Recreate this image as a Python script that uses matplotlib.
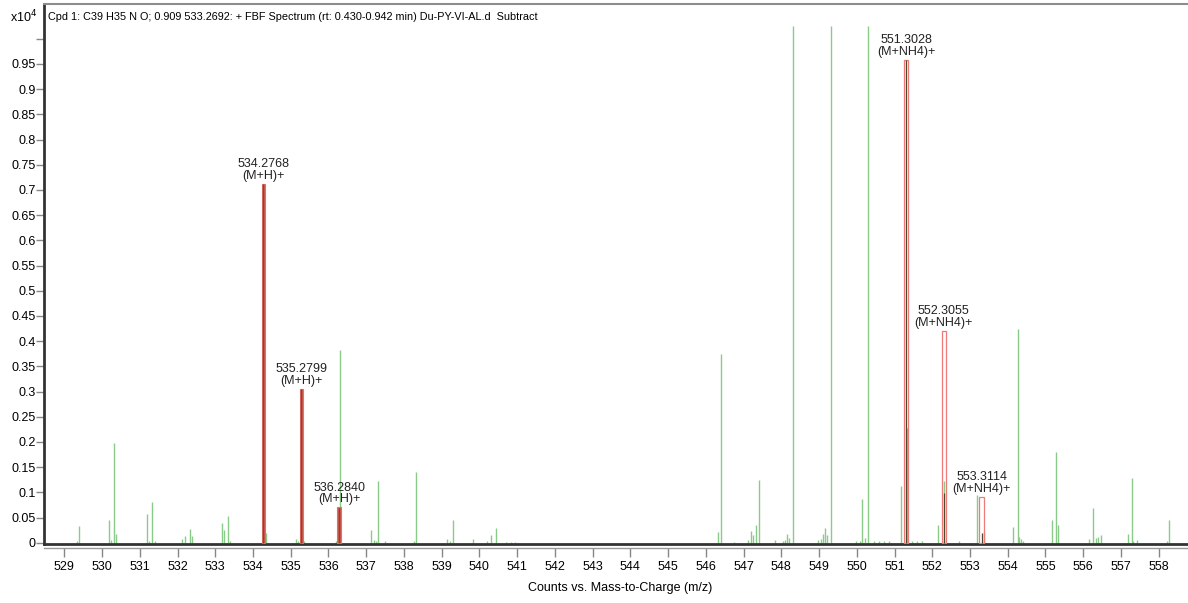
import numpy as np
import matplotlib.pyplot as plt
from matplotlib.patches import Rectangle

# profile peaks of the spectrum (m/z, counts x10^4)
peak_mz = [529.33, 529.39, 530.18, 530.23, 530.31, 530.36, 531.19, 531.25, 531.32, 531.40,
           532.13, 532.19, 532.32, 532.39, 533.19, 533.23, 533.33, 533.40, 534.35, 535.13,
           535.20, 535.34, 536.20, 536.31, 537.13, 537.20, 537.25, 537.31, 537.50, 538.27,
           538.32, 539.13, 539.22, 539.31, 539.84, 540.20, 540.32, 540.45, 540.70, 540.85,
           540.95, 546.33, 546.40, 546.75, 547.12, 547.19, 547.26, 547.33, 547.40, 547.83,
           548.04, 548.10, 548.16, 548.20, 548.30, 548.98, 549.04, 549.10, 549.15, 549.20,
           549.31, 549.99, 550.08, 550.15, 550.21, 550.30, 550.45, 550.60, 550.72, 550.85,
           551.16, 551.32, 551.45, 551.60, 551.72, 552.14, 552.31, 552.70, 553.19, 553.36,
           554.15, 554.26, 554.30, 554.35, 554.40, 555.16, 555.27, 555.32, 556.16, 556.27,
           556.34, 556.40, 556.46, 557.19, 557.28, 557.33, 557.42, 558.22, 558.28]
peak_int = [0.004, 0.034, 0.046, 0.005, 0.198, 0.017, 0.058, 0.003, 0.081, 0.003,
            0.007, 0.014, 0.027, 0.013, 0.040, 0.025, 0.054, 0.003, 0.020, 0.007,
            0.003, 0.004, 0.003, 0.382, 0.025, 0.006, 0.004, 0.122, 0.003, 0.003,
            0.141, 0.008, 0.004, 0.045, 0.008, 0.004, 0.015, 0.030, 0.002, 0.002,
            0.002, 0.021, 0.374, 0.002, 0.005, 0.023, 0.015, 0.036, 0.124, 0.006,
            0.004, 0.006, 0.017, 0.010, 1.025, 0.005, 0.008, 0.018, 0.030, 0.016,
            1.025, 0.004, 0.004, 0.087, 0.010, 1.025, 0.004, 0.003, 0.003, 0.003,
            0.113, 0.227, 0.003, 0.004, 0.003, 0.035, 0.122, 0.003, 0.095, 0.024,
            0.032, 0.424, 0.012, 0.008, 0.004, 0.046, 0.181, 0.035, 0.008, 0.069,
            0.010, 0.012, 0.015, 0.017, 0.129, 0.004, 0.005, 0.003, 0.045]

# identified ions: predicted isotope boxes + measured centroid
ion_mz = [534.2768, 535.2799, 536.2840, 551.3028, 552.3055, 553.3114]
ion_species = ['(M+H)+', '(M+H)+', '(M+H)+', '(M+NH4)+', '(M+NH4)+', '(M+NH4)+']
ion_pred = [0.712, 0.305, 0.070, 0.958, 0.420, 0.091]
ion_meas = [0.712, 0.305, 0.069, 0.958, 0.098, 0.019]
ion_filled = [True, True, True, False, False, False]

yticks = [0, 0.05, 0.1, 0.15, 0.2, 0.25, 0.3, 0.35, 0.4, 0.45, 0.5, 0.55, 0.6,
          0.65, 0.7, 0.75, 0.8, 0.85, 0.9, 0.95, 1.0]
ytick_labels = ['0', '0.05', '0.1', '0.15', '0.2', '0.25', '0.3', '0.35', '0.4', '0.45',
                '0.5', '0.55', '0.6', '0.65', '0.7', '0.75', '0.8', '0.85', '0.9', '0.95', '']
xticks = list(range(529, 559))

plt.rcParams['font.family'] = ['Liberation Sans', 'DejaVu Sans']
fs = 9

W, H = 1188, 603
fig = plt.figure(figsize=(W / 100, H / 100), dpi=100)
ax = fig.add_axes([44 / W, 1 - 543.5 / H, (1187 - 44) / W, (543.5 - 4) / H])

ax.set_xlim(528.462, 558.75)
ax.set_ylim(-0.0015, 1.069)

green = '#8acb8a'
ax.vlines(peak_mz, 0, peak_int, color=green, lw=1.0, zorder=2)

for mz, sp, pred, meas, filled in zip(ion_mz, ion_species, ion_pred, ion_meas, ion_filled):
    if filled:
        w = 0.09
        ax.add_patch(Rectangle((mz - w / 2, 0), w, pred, facecolor='#cc5a4e',
                               edgecolor='#e07068', lw=0.8, zorder=3))
        ax.vlines(mz, 0, meas, color='#9a3b30', lw=1.0, zorder=4)
    else:
        w = 0.12
        ax.add_patch(Rectangle((mz - w / 2, 0), w, pred, facecolor='none',
                               edgecolor='#ee7a7a', lw=0.9, zorder=3))
        ax.vlines(mz + 0.01, 0, meas, color='#4a4a2a', lw=0.9, zorder=4)
    ax.annotate(f'{mz:.4f}\n{sp}', (mz, pred), xytext=(0, 1.5), textcoords='offset points',
                ha='center', va='bottom', fontsize=fs, linespacing=0.95, color='#222222')

# axes frame
for s in ['left', 'bottom']:
    ax.spines[s].set_color('#333333')
    ax.spines[s].set_linewidth(2.0)
ax.spines['top'].set_color('#8c8c8c')
ax.spines['top'].set_linewidth(1.5)
ax.spines['right'].set_visible(False)

ax.set_yticks(yticks, ytick_labels, fontsize=fs)
ax.tick_params(axis='y', direction='out', length=5.5, width=1, color='#888888', pad=0.5)
ax.tick_params(axis='x', bottom=False, labelbottom=False)

# m/z scale sits just under the baseline
sec = ax.secondary_xaxis(-0.0085)
sec.set_xticks(xticks)
sec.spines['bottom'].set_color('#999999')
sec.spines['bottom'].set_linewidth(1.0)
sec.tick_params(direction='out', length=6.5, width=1, color='#888888', labelsize=fs, pad=2.5)

fig.text(37 / W, 1 - 17 / H, r'x10$^4$', ha='right', va='center', fontsize=fs)
fig.text(48 / W, 1 - 17 / H,
         'Cpd 1: C39 H35 N O; 0.909 533.2692: + FBF Spectrum (rt: 0.430-0.942 min) Du-PY-VI-AL.d  Subtract',
         ha='left', va='center', fontsize=7.8)
fig.text(620 / W, 1 - 588 / H, 'Counts vs. Mass-to-Charge (m/z)', ha='center', va='center', fontsize=fs)

fig.savefig('out.png', dpi=100)
